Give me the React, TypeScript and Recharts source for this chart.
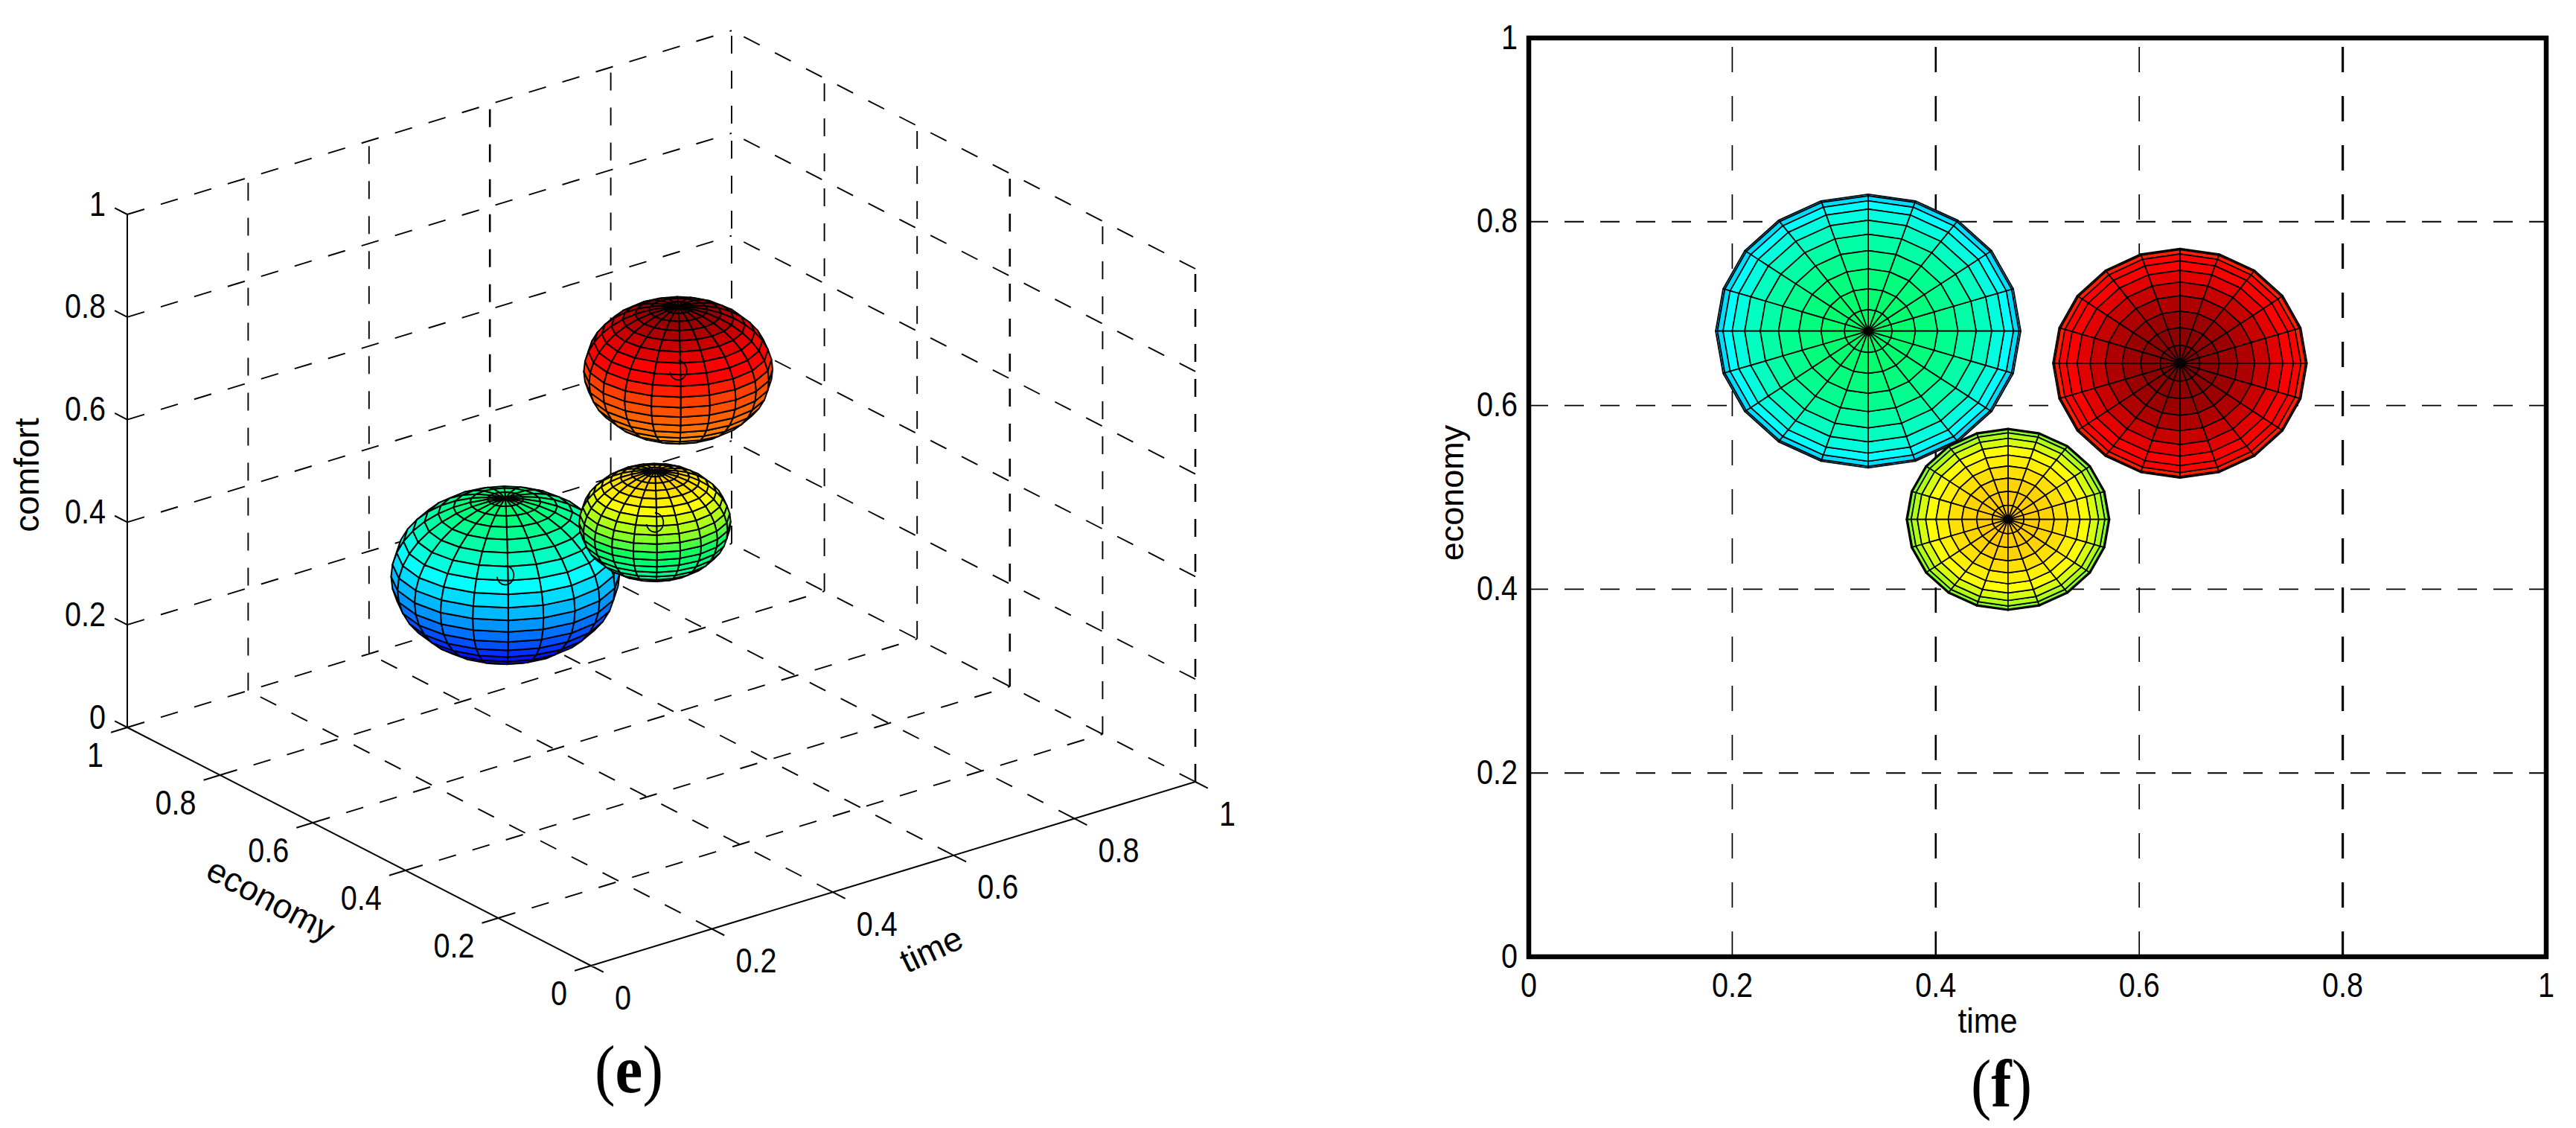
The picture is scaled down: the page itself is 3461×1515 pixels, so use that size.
import React from 'react';
import { ScatterChart, Scatter, XAxis, YAxis, CartesianGrid, ReferenceArea } from 'recharts';

// ---- values ----
const axisTicks = [0, 0.2, 0.4, 0.6, 0.8, 1];
const sphereTime3d = [0.38, 0.64, 0.471];
const sphereEconomy3d = [0.68, 0.646, 0.476];
const sphereComfort3d = [0.309, 0.631, 0.474];
const sphereRadius = [0.15, 0.124, 0.0995];
const sphereTimePlan = [0.3336, 0.64, 0.471];
const sphereEconomyPlan = [0.681, 0.646, 0.476];
const sphereRadiusTimePlan = [0.15, 0.125, 0.1];
const sphereRadiusEconomyPlan = [0.149, 0.125, 0.099];

// colour-map position reached at the bottom and top of each ball
const colourBottom = [0.159, 0.538, 0.4];
const colourTop = [0.46, 0.785, 0.55];

// colour map: position -> colour
const mapPosition = [0.15, 0.19, 0.31, 0.333, 0.356, 0.46, 0.485, 0.52, 0.585, 0.661, 0.7, 0.72, 0.785];
const mapColour = [
  [0, 0, 230], [0, 0, 255], [0, 185, 255], [0, 220, 255], [0, 255, 255], [0, 255, 100],
  [128, 255, 40], [255, 255, 0], [255, 128, 0], [255, 64, 0], [255, 0, 0], [255, 0, 0], [128, 0, 0],
];

// ---- view of the 3-D panel ----
const O = [794, 1297];
const T = [812, -247];
const E = [-623, -320];
const Cz = -689;
const VIEW = [-1, -1.303, 0.964];
const project = (t: number, e: number, c: number) => ({ x: O[0] + t * T[0] + e * E[0], y: O[1] + t * T[1] + e * E[1] + c * Cz });
const seg = (a: number[], b: number[]) => [project(a[0], a[1], a[2]), project(b[0], b[1], b[2])];

const colourAt = (z: number) => {
  let i = 0;
  while (i < mapPosition.length - 2 && z > mapPosition[i + 1]) i++;
  const f = Math.max(0, Math.min(1, (z - mapPosition[i]) / (mapPosition[i + 1] - mapPosition[i])));
  const c = mapColour[i].map((v, k) => Math.round(v + (mapColour[i + 1][k] - v) * f));
  return `rgb(${c[0]},${c[1]},${c[2]})`;
};
// h: -1 at the bottom of the ball, +1 at its top
const ballColour = (s: number, h: number) => colourAt(colourBottom[s] + ((h + 1) / 2) * (colourTop[s] - colourBottom[s]));

const N = 20;
const rad = (k: number) => (k * Math.PI) / 180;
const unit = (i: number, j: number) => {
  const lat = rad(-90 + (180 * i) / N);
  const lon = rad((360 * j) / N);
  return [Math.cos(lat) * Math.cos(lon), Math.cos(lat) * Math.sin(lon), Math.sin(lat)];
};

type Mesh = { pts: { x: number; y: number }[]; colours: string[] };

function mesh3d(s: number): Mesh {
  const faces: { depth: number; corners: number[][]; h: number }[] = [];
  for (let i = 0; i < N; i++) for (let j = 0; j < N; j++) {
    const cs = [unit(i, j), unit(i, j + 1), unit(i + 1, j + 1), unit(i + 1, j)];
    const m = [0, 1, 2].map((k) => (cs[0][k] + cs[1][k] + cs[2][k] + cs[3][k]) / 4);
    const d = m[0] * VIEW[0] + m[1] * VIEW[1] + m[2] * VIEW[2];
    if (d <= 0) continue;
    faces.push({ depth: d, corners: cs, h: cs[0][2] });
  }
  faces.sort((a, b) => a.depth - b.depth);
  const pts: { x: number; y: number }[] = [];
  const colours: string[] = [];
  faces.forEach((f) => {
    colours.push(ballColour(s, f.h));
    f.corners.forEach((c) => pts.push(project(
      sphereTime3d[s] + sphereRadius[s] * c[0],
      sphereEconomy3d[s] + sphereRadius[s] * c[1],
      sphereComfort3d[s] + sphereRadius[s] * c[2],
    )));
  });
  return { pts, colours };
}

function meshPlan(s: number): Mesh {
  const pts: { x: number; y: number }[] = [];
  const colours: string[] = [];
  for (let i = N / 2; i < N; i++) for (let j = 0; j < N; j++) {
    const cs = [unit(i, j), unit(i, j + 1), unit(i + 1, j + 1), unit(i + 1, j)];
    colours.push(ballColour(s, cs[0][2]));
    cs.forEach((c) => pts.push({
      x: sphereTimePlan[s] + sphereRadiusTimePlan[s] * c[0],
      y: sphereEconomyPlan[s] + sphereRadiusEconomyPlan[s] * c[1],
    }));
  }
  return { pts, colours };
}

const quadLine = (colours: string[], sw: number) => (p: any) => {
  const out: React.ReactNode[] = [];
  const pts = p.points as { x: number; y: number }[];
  for (let q = 0; q < colours.length; q++) {
    const c = pts.slice(q * 4, q * 4 + 4);
    out.push(<polygon key={q} points={c.map((v) => `${v.x},${v.y}`).join(' ')} fill={colours[q]} stroke="#000" strokeWidth={sw} strokeLinejoin="round" />);
  }
  return <g>{out}</g>;
};

const pairLine = (dash: string | undefined, sw: number) => (p: any) => {
  const pts = p.points as { x: number; y: number }[];
  let d = '';
  for (let i = 0; i + 1 < pts.length; i += 2) d += `M${pts[i].x} ${pts[i].y}L${pts[i + 1].x} ${pts[i + 1].y}`;
  return <path d={d} fill="none" stroke="#000" strokeWidth={sw} strokeDasharray={dash} />;
};

const noDot = () => <g />;
const SANS = '"Liberation Sans",Arial,sans-serif';
const SERIF = '"Liberation Serif",serif';
const TICK_FS = 47;
// condensed digits as in the original picture
const labelLength = (s: string) => (s.length === 1 ? 22 : 55);
const Digits = ({ x, y, anchor, children }: any) => {
  const s = String(children);
  return (
    <text x={x} y={y} textAnchor={anchor} dominantBaseline="central" fontFamily={SANS} fontSize={TICK_FS} fill="#000"
      textLength={labelLength(s)} lengthAdjust="spacingAndGlyphs">{s}</text>
  );
};

// ---- grid of the 3-D panel ----
const inner = axisTicks.slice(1);
const dashed3d = [
  ...inner.flatMap((g) => seg([g, 0, 0], [g, 1, 0])),
  ...inner.flatMap((g) => seg([0, g, 0], [1, g, 0])),
  ...inner.filter((g) => g !== 0.6).flatMap((g) => seg([g, 1, 0], [g, 1, 1])),
  ...inner.flatMap((c) => seg([0, 1, c], [1, 1, c])),
  ...[0.2, 0.6, 0.8].flatMap((g) => seg([1, g, 0], [1, g, 1])),
  ...inner.flatMap((c) => seg([1, 0, c], [1, 1, c])),
];
const heavyDashed3d = [
  ...seg([0.6, 1, 0], [0.6, 1, 1]),
  ...seg([1, 0.4, 0], [1, 0.4, 1]),
  ...seg([1, 0, 0], [1, 0, 1]),
];
const TL = 0.027;
const solid3d = [
  ...seg([0, 1, 0], [0, 1, 1]),
  ...seg([0, 1, 0], [0, 0, 0]),
  ...seg([0, 0, 0], [1, 0, 0]),
  ...axisTicks.flatMap((c) => seg([0, 1, c], [0, 1 + TL, c])),
  ...axisTicks.flatMap((e) => seg([0, e, 0], [-TL, e, 0])),
  ...axisTicks.flatMap((t) => seg([t, 0, 0], [t, -TL, 0])),
];

const comfortLabels = axisTicks.map((c) => ({ ...project(0, 1, c), label: String(c) }));
const economyLabels = axisTicks.map((e) => ({ ...project(0, e, 0), label: String(e) }));
const timeLabels = axisTicks.map((t) => ({ ...project(t, 0, 0), label: String(t) }));

const tickText = (dx: number, dy: number, anchor: string) => (p: any) => (
  <Digits x={p.cx + dx} y={p.cy + dy} anchor={anchor}>{p.payload.label}</Digits>
);

// small curl visible on each ball's face in the 3-D panel
const curls = sphereTime3d.map((_, s) => {
  const c = project(sphereTime3d[s], sphereEconomy3d[s], sphereComfort3d[s]);
  const pts: { x: number; y: number }[] = [];
  for (let a = -90; a <= 170; a += 20) pts.push({ x: c.x + 11.5 * Math.cos(rad(a)), y: c.y + 13 * Math.sin(rad(a)) });
  return pts;
});
const curlLine = (p: any) => {
  const pts = p.points as { x: number; y: number }[];
  return <polyline points={pts.map((v) => `${v.x},${v.y}`).join(' ')} fill="none" stroke="#000" strokeWidth={1.8} />;
};

const order3d = [0, 1, 2];
const xGridWidths = [1.7, 2.6, 1.7, 3.2];

const xTick = (p: any) => <Digits x={p.x} y={p.y + 31} anchor="middle">{p.payload.value}</Digits>;
const yTick = (p: any) => <Digits x={p.x} y={p.y - 2} anchor="end">{p.payload.value}</Digits>;

export default function App() {
  return (
    <div style={{ position: 'absolute', left: 0, top: 0, width: 3461, height: 1515, background: '#fff', overflow: 'hidden' }}>
      <div style={{ position: 'absolute', left: 0, top: 0 }}>
        <ScatterChart width={1800} height={1515} margin={{ top: 0, right: 0, bottom: 0, left: 0 }}>
          <XAxis type="number" dataKey="x" domain={[0, 1800]} hide />
          <YAxis type="number" dataKey="y" domain={[0, 1515]} reversed hide />
          <Scatter data={dashed3d} shape={noDot} line={pairLine('24 23', 1.9)} isAnimationActive={false} />
          <Scatter data={heavyDashed3d} shape={noDot} line={pairLine('24 23', 2.6)} isAnimationActive={false} />
          <Scatter data={solid3d} shape={noDot} line={pairLine(undefined, 2)} isAnimationActive={false} />
          {order3d.map((s) => {
            const m = mesh3d(s);
            return <Scatter key={s} data={m.pts} shape={noDot} line={quadLine(m.colours, 2)} isAnimationActive={false} />;
          })}
          {order3d.map((s) => (
            <Scatter key={`c${s}`} data={curls[s]} shape={noDot} line={curlLine} isAnimationActive={false} />
          ))}
          <Scatter data={comfortLabels} shape={tickText(-29, -15, 'end')} isAnimationActive={false} />
          <Scatter data={economyLabels} shape={tickText(-32, 36, 'end')} isAnimationActive={false} />
          <Scatter data={timeLabels} shape={tickText(32, 42, 'start')} isAnimationActive={false} />
        </ScatterChart>
      </div>

      <div style={{ position: 'absolute', left: 1850, top: 0 }}>
        <ScatterChart width={1611} height={1515} margin={{ top: 51, right: 40, bottom: 170, left: 104 }}>
          <CartesianGrid vertical={false} stroke="#000" strokeWidth={1.9} strokeDasharray="26 22" />
          <XAxis type="number" dataKey="x" domain={[0, 1]} ticks={axisTicks} interval={0} height={60} tickLine={false} axisLine={false}
            tick={xTick} tickMargin={0}
            label={{ value: 'time', position: 'insideBottom', offset: -42, fontFamily: SANS, fontSize: 47, fill: '#000', dx: -67, textLength: 80, lengthAdjust: 'spacingAndGlyphs' }} />
          <YAxis type="number" dataKey="y" domain={[0, 1]} ticks={axisTicks} interval={0} width={100} tickLine={false} axisLine={false}
            tick={yTick} tickMargin={9}
            label={{ value: 'economy', angle: -90, position: 'insideLeft', offset: -4, fontFamily: SANS, fontSize: 45, fill: '#000', dy: -6, textAnchor: 'middle' }} />
          {inner.slice(0, 4).map((g, i) => (
            <Scatter key={g} data={[{ x: g, y: 0 }, { x: g, y: 1 }]} shape={noDot} line={{ stroke: '#000', strokeWidth: xGridWidths[i], strokeDasharray: '34 32', fill: 'none' }} isAnimationActive={false} />
          ))}
          {[0, 1, 2].map((s) => {
            const m = meshPlan(s);
            return <Scatter key={s} data={m.pts} shape={noDot} line={quadLine(m.colours, 1.7)} isAnimationActive={false} />;
          })}
          <ReferenceArea x1={0} x2={1} y1={0} y2={1} fill="none" stroke="#000" strokeWidth={6.5} />
        </ScatterChart>
      </div>

      <svg width={3461} height={1515} style={{ position: 'absolute', left: 0, top: 0, pointerEvents: 'none' }}>
        <text x={36} y={638} transform="rotate(-90 36 638)" textAnchor="middle" dominantBaseline="central" fontFamily={SANS} fontSize={46} fill="#000">comfort</text>
        <text x={364} y={1208} transform="rotate(28 364 1208)" textAnchor="middle" dominantBaseline="central" fontFamily={SANS} fontSize={46} fill="#000">economy</text>
        <text x={1251} y={1275} transform="rotate(-25 1251 1275)" textAnchor="middle" dominantBaseline="central" fontFamily={SANS} fontSize={46} fill="#000">time</text>
        <text x={845} y={1467} textAnchor="middle" fontFamily={SERIF} fontSize={92} fill="#000" textLength={92} lengthAdjust="spacingAndGlyphs">(<tspan fontWeight="bold">e</tspan>)</text>
        <text x={2689} y={1486} textAnchor="middle" fontFamily={SERIF} fontSize={92} fill="#000" textLength={82} lengthAdjust="spacingAndGlyphs">(<tspan fontWeight="bold">f</tspan>)</text>
      </svg>
    </div>
  );
}
